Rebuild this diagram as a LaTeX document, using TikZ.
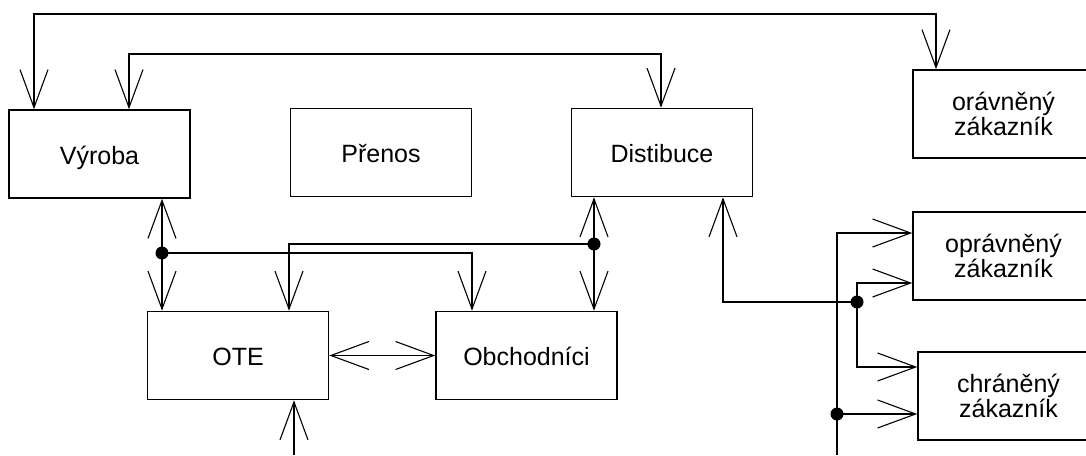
\documentclass[tikz,border=0pt]{standalone}
\usepackage{fontspec}
\setmainfont{Liberation Sans}
\usetikzlibrary{arrows.meta}
\begin{document}
\begin{tikzpicture}[x=1pt,y=-1pt,
  line width=1.6pt,
  >={Straight Barb[length=38pt,width=28pt,line width=1.1pt]},
  box/.style={draw, line width=1.6pt, minimum width=181pt, minimum height=88pt,
    inner sep=0pt, font=\fontsize{25}{25.5}\selectfont, align=center},
  onebox/.style={box, text height=24pt, text depth=4pt},
  junction/.style={fill=black}]
\useasboundingbox (0,0) rectangle (1086,455);
\clip (0,0) rectangle (1086,455);
\fill[white] (0,0) rectangle (1086,455);
% boxes
\node[onebox] (vyroba) at (99.5,154) {Výroba};
\node[onebox] (prenos) at (381,152.5) {Přenos};
\node[onebox] (distibuce) at (662,152.5) {Distibuce};
\node[box] (oravneny) at (1003.5,114) {orávněný\\zákazník};
\node[box] (opravneny) at (1003.5,256) {oprávněný\\zákazník};
\node[box] (chraneny) at (1008.5,396) {chráněný\\zákazník};
\node[onebox] (ote) at (238,355.5) {OTE};
\node[onebox] (obchodnici) at (526.5,355.5) {Obchodníci};
% top loops
\coordinate (xa) at (34,14);
\coordinate (xb) at (936,14);
\draw[<->] (vyroba.north -| xa) -- (xa) -- (xb) -- (oravneny.north -| xb);
\coordinate (ya) at (129,54);
\coordinate (yb) at (661,54);
\draw[<->] (vyroba.north -| ya) -- (ya) -- (yb) -- (distibuce.north -| yb);
% middle network
\coordinate (dv) at (162,253);
\draw[<->] (vyroba.south -| dv) -- (ote.north -| dv);
\coordinate (ob1) at (472,253);
\draw[->] (dv) -- (ob1) -- (obchodnici.north -| ob1);
\coordinate (dd) at (594,244);
\draw[<->] (distibuce.south -| dd) -- (obchodnici.north -| dd);
\coordinate (ot1) at (289,244);
\draw[->] (dd) -- (ot1) -- (ote.north -| ot1);
\draw[<->] (ote.east) -- (obchodnici.west);
\coordinate (ob) at (294,455);
\draw[->] (ob) -- (ote.south -| ob);
% right network
\coordinate (q1) at (723,302);
\coordinate (dr) at (857,302);
\draw[->] (dr) -- (q1) -- (distibuce.south -| q1);
\coordinate (q2) at (857,283);
\draw[->] (dr) -- (q2) -- (opravneny.west |- q2);
\coordinate (q3) at (857,367);
\draw[->] (dr) -- (q3) -- (chraneny.west |- q3);
\coordinate (v0) at (837,455);
\coordinate (v1) at (837,233);
\draw[->] (v0) -- (v1) -- (opravneny.west |- v1);
\coordinate (dc) at (837,414);
\draw[->] (dc) -- (chraneny.west |- dc);
% junction dots
\foreach \p in {dv,dd,dr,dc} \fill[junction] (\p) circle[radius=6.5];
\end{tikzpicture}
\end{document}
